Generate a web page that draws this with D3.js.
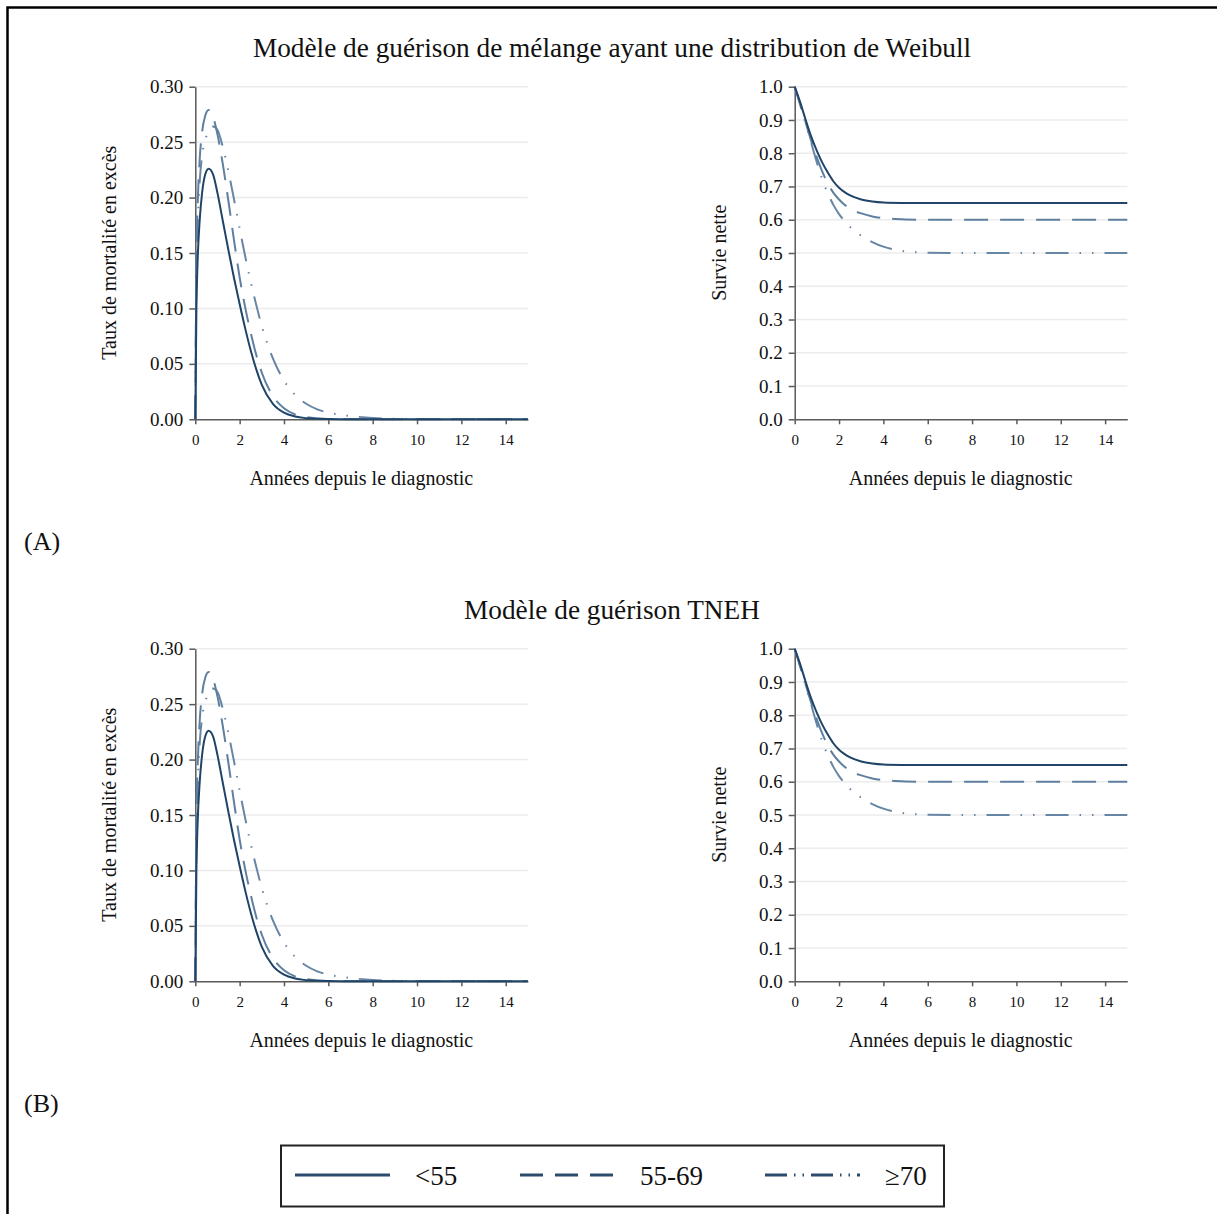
<!DOCTYPE html>
<html><head><meta charset="utf-8">
<script src="https://cdn.jsdelivr.net/npm/d3@7"></script>
<style>
body{margin:0;background:#fff}
svg{display:block}
</style>
</head><body>
<svg id="c" width="1217" height="1214"></svg>
<script>
// ---------------- data ----------------
const groups = ["<55", "55-69", "≥70"];
const titleTop = "Modèle de guérison de mélange ayant une distribution de Weibull";
const titleBottom = "Modèle de guérison TNEH";
const panelLabels = ["(A)", "(B)"];
const xTitle = "Années depuis le diagnostic";
const hazardTitle = "Taux de mortalité en excès";
const survivalTitle = "Survie nette";
const xTicks = [0, 2, 4, 6, 8, 10, 12, 14];
const hazardTicks = [0, 0.05, 0.10, 0.15, 0.20, 0.25, 0.30];
const survivalTicks = [0, 0.1, 0.2, 0.3, 0.4, 0.5, 0.6, 0.7, 0.8, 0.9, 1.0];

// excess mortality rate (years since diagnosis)
const hazardTimes = [0, 0.05, 0.1, 0.2, 0.3, 0.45, 0.6, 0.8, 1.0, 1.25, 1.5, 1.75, 2.0, 2.25, 2.5, 2.75, 3.0, 3.5, 4.0, 4.5, 5.0, 5.5, 6.0, 7.0, 8.0, 9.0, 10, 12, 15];
const hazardLt55 = [0, 0.10, 0.14, 0.18, 0.203, 0.221, 0.226, 0.221, 0.204, 0.178, 0.152, 0.127, 0.104, 0.082, 0.062, 0.045, 0.031, 0.014, 0.006, 0.0025, 0.001, 0.0004, 0.0002, 0, 0, 0, 0, 0, 0];
const hazard55to69 = [0, 0.15, 0.19, 0.235, 0.258, 0.274, 0.279, 0.273, 0.257, 0.229, 0.196, 0.161, 0.128, 0.101, 0.078, 0.058, 0.042, 0.021, 0.010, 0.0045, 0.002, 0.0008, 0.0003, 0, 0, 0, 0, 0, 0];
const hazardGe70 = [0, 0.13, 0.17, 0.215, 0.237, 0.252, 0.26, 0.264, 0.261, 0.245, 0.223, 0.198, 0.172, 0.147, 0.124, 0.103, 0.084, 0.055, 0.035, 0.022, 0.014, 0.009, 0.006, 0.003, 0.0012, 0.0004, 0.0001, 0, 0];

// net survival
const survivalTimes = [0, 0.25, 0.5, 0.75, 1.0, 1.25, 1.5, 1.75, 2.0, 2.25, 2.5, 3.0, 3.5, 4.0, 5.0, 6.0, 8, 10, 12, 15];
const survivalLt55 = [1, 0.953, 0.899, 0.849, 0.807, 0.771, 0.741, 0.715, 0.696, 0.683, 0.673, 0.661, 0.655, 0.652, 0.6505, 0.65, 0.65, 0.65, 0.65, 0.65];
const survival55to69 = [1, 0.948, 0.891, 0.836, 0.787, 0.744, 0.708, 0.681, 0.661, 0.645, 0.633, 0.619, 0.61, 0.605, 0.601, 0.6, 0.6, 0.6, 0.6, 0.6];
const survivalGe70 = [1, 0.945, 0.888, 0.83, 0.772, 0.72, 0.678, 0.644, 0.617, 0.596, 0.578, 0.552, 0.533, 0.519, 0.505, 0.501, 0.5, 0.5, 0.5, 0.5];

// ---------------- drawing ----------------
const SERIF = "'Liberation Serif','Times New Roman',Times,serif";
const styles = [
  {color: "#1f4467", dash: null, width: 2},
  {color: "#5f7fa0", dash: "24,12", width: 2},
  {color: "#6785a4", dash: "23,11,1.5,11,1.5,11", width: 2}
];
const legendColor = "#2c4c6c";

const svg = d3.select("#c");
svg.append("rect").attr("width", 1217).attr("height", 1214).attr("fill", "#fff");
svg.append("path").attr("d", "M7.5,1214V7.5H1217")
  .attr("fill", "none").attr("stroke", "#000").attr("stroke-width", 2.5);

function text(x, y, s, size, anchor, rot) {
  const t = svg.append("text").attr("x", x).attr("y", y).text(s)
    .attr("font-family", SERIF).attr("font-size", size).attr("fill", "#111")
    .attr("text-anchor", anchor || "middle");
  if (rot) t.attr("transform", `rotate(${rot},${x},${y})`);
  return t;
}

const PW = 332.6, PH = 332.6;

function panel(left, top, times, seriesVals, yMax, ticks, fmt, yTitle, yTitleOffset) {
  const x = d3.scaleLinear().domain([0, 15]).range([left, left + PW]);
  const y = d3.scaleLinear().domain([0, yMax]).range([top + PH, top]);
  const g = svg.append("g");
  // grid
  g.selectAll("line.grid").data(ticks.filter(d => d > 0)).join("line")
    .attr("x1", left).attr("x2", left + PW)
    .attr("y1", d => y(d)).attr("y2", d => y(d))
    .attr("stroke", "#ececec").attr("stroke-width", 1.5);
  // y axis
  const ya = g.append("g").attr("transform", `translate(${left},0)`)
    .call(d3.axisLeft(y).tickValues(ticks).tickFormat(fmt).tickSize(6).tickPadding(6).tickSizeOuter(0));
  ya.attr("font-family", SERIF).attr("font-size", 19);
  ya.selectAll("path,line").attr("stroke", "#5a5a5a").attr("stroke-width", 1.5);
  ya.selectAll("text").attr("fill", "#111");
  // x axis
  const xa = g.append("g").attr("transform", `translate(0,${top + PH})`)
    .call(d3.axisBottom(x).tickValues(xTicks).tickSize(5).tickPadding(10).tickSizeOuter(0));
  xa.attr("font-family", SERIF).attr("font-size", 15);
  xa.selectAll("path,line").attr("stroke", "#5a5a5a").attr("stroke-width", 1.5);
  xa.selectAll("text").attr("fill", "#111");
  // titles
  text(left + 166, top + 398, xTitle, 20);
  text(left - yTitleOffset, top + 166, yTitle, 20, "middle", -90);
  // lines
  const line = d3.line().x(d => x(d[0])).y(d => y(d[1])).curve(d3.curveMonotoneX);
  [2, 1, 0].forEach(i => {
    const pts = times.map((t, k) => [t, seriesVals[i][k]]);
    const p = g.append("path").datum(pts).attr("d", line)
      .attr("fill", "none").attr("stroke", styles[i].color)
      .attr("stroke-width", styles[i].width).attr("stroke-linejoin", "round");
    if (styles[i].dash) p.attr("stroke-dasharray", styles[i].dash);
  });
}

const hazardSeries = [hazardLt55, hazard55to69, hazardGe70];
const survivalSeries = [survivalLt55, survival55to69, survivalGe70];
const rowOffsets = [0, 562];
const rowTitles = [titleTop, titleBottom];

rowOffsets.forEach((off, r) => {
  text(612, 57 + off, rowTitles[r], 27.3);
  text(24, 550 + off, panelLabels[r], 26, "start");
  panel(195.3, 86.7 + off, hazardTimes, hazardSeries, 0.30, hazardTicks, d3.format(".2f"), hazardTitle, 79);
  panel(794.7, 86.7 + off, survivalTimes, survivalSeries, 1.0, survivalTicks, d3.format(".1f"), survivalTitle, 69);
});

// legend
svg.append("rect").attr("x", 281).attr("y", 1145.5).attr("width", 663).attr("height", 61)
  .attr("fill", "#fff").attr("stroke", "#222").attr("stroke-width", 2);
const legX = [295, 520, 765];
groups.forEach((gname, i) => {
  const l = svg.append("line").attr("x1", legX[i]).attr("x2", legX[i] + 95)
    .attr("y1", 1175).attr("y2", 1175)
    .attr("stroke", legendColor).attr("stroke-width", 3);
  if (i === 1) l.attr("stroke-dasharray", "23,12");
  if (i === 2) l.attr("stroke-dasharray", "22,7,1.5,7,1.5,7");
  text(legX[i] + 120, 1185, gname, 27, "start");
});
</script>
</body></html>
